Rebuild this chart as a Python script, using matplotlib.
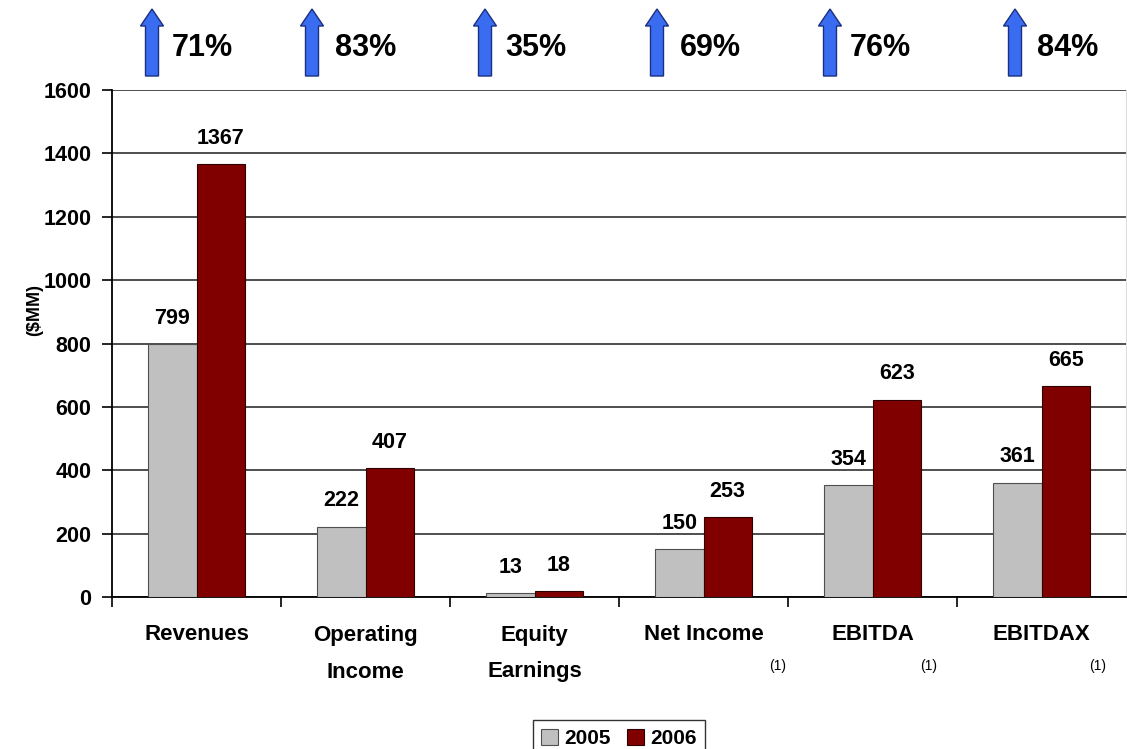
import matplotlib
matplotlib.use("Agg")
import matplotlib.pyplot as plt
import matplotlib.transforms as mtransforms
from matplotlib.patches import FancyArrow
import numpy as np

categories = ["Revenues", "Operating\nIncome", "Equity\nEarnings", "Net Income", "EBITDA", "EBITDAX"]
footnotes = ["", "", "", "(1)", "(1)", "(1)"]
values_2005 = [799, 222, 13, 150, 354, 361]
values_2006 = [1367, 407, 18, 253, 623, 665]
growth_pct = ["71%", "83%", "35%", "69%", "76%", "84%"]
series_labels = ["2005", "2006"]
y_ticks = [0, 200, 400, 600, 800, 1000, 1200, 1400, 1600]

plt.rcParams["font.family"] = ["Liberation Sans", "DejaVu Sans"]

W, H = 1127, 749
fig = plt.figure(figsize=(W / 100, H / 100), dpi=100)
ax = fig.add_axes([112 / W, 1 - 597 / H, 1014 / W, (597 - 90) / H])

x = np.arange(len(categories))
bw = 0.286
c05, c06 = "#C0C0C0", "#800000"
b1 = ax.bar(x - bw / 2, values_2005, bw, color=c05, edgecolor="#505050", linewidth=0.8,
            label=series_labels[0], zorder=3)
b2 = ax.bar(x + bw / 2, values_2006, bw, color=c06, edgecolor="#300000", linewidth=0.8,
            label=series_labels[1], zorder=3)

for bars, vals in ((b1, values_2005), (b2, values_2006)):
    for rect, v in zip(bars, vals):
        ax.annotate(f"{v}", (rect.get_x() + rect.get_width() / 2, v),
                    xytext=(0, 11), textcoords="offset points",
                    ha="center", va="bottom", fontsize=15.5, fontweight="bold")

ax.set_xlim(-0.5, len(categories) - 0.5)
ax.set_ylim(0, 1600)
ax.set_yticks(y_ticks)
ax.set_yticklabels([str(t) for t in y_ticks], fontsize=15.5, fontweight="bold")
ax.yaxis.grid(True, color="#404040", linewidth=1.3, zorder=0)
ax.set_axisbelow(True)

# ticks on the x axis sit on the category boundaries
ax.set_xticks(np.arange(len(categories)) - 0.5)
ax.set_xticklabels([])
ax.tick_params(axis="x", direction="out", length=7, width=1.2, color="black")
ax.tick_params(axis="y", direction="out", length=7, width=1.2, color="black", pad=8)

ax.spines["top"].set_visible(False)
ax.spines["right"].set_color("#DDDDDD")
ax.spines["left"].set_linewidth(1.3)
ax.spines["bottom"].set_linewidth(1.3)

# category labels below the axis
trans = mtransforms.blended_transform_factory(ax.transData, fig.transFigure)
foot_dx = [0, 0, 0, 0.44, 0.33, 0.33]
for i, (lab, fn) in enumerate(zip(categories, footnotes)):
    lines = lab.split("\n")
    for j, line in enumerate(lines):
        ax.text(i, 1 - (635 + 37 * j) / H, line, transform=trans, ha="center", va="center",
                fontsize=16, fontweight="bold", clip_on=False)
    if fn:
        ax.text(i + foot_dx[i], 1 - 666 / H, fn, transform=trans, ha="center", va="center",
                fontsize=10, clip_on=False)

fig.text(35 / W, 1 - 310 / H, "($MM)", rotation=90, ha="center", va="center",
         fontsize=13, fontweight="bold")

# growth arrows above the plot
arrow_x = [152, 312, 485, 657, 830, 1015]
text_x = [172, 335, 505, 680, 850, 1037]
for ax_px, tx_px, pct in zip(arrow_x, text_x, growth_pct):
    arr = FancyArrow(ax_px / W, 1 - 76 / H, 0, (76 - 9) / H,
                     width=13 / W, head_width=23 / W, head_length=17 / H,
                     length_includes_head=True, transform=fig.transFigure,
                     facecolor="#3A6CF2", edgecolor="#1B2F80", linewidth=1.0)
    fig.patches.append(arr)
    fig.text(tx_px / W, 1 - 48 / H, pct, ha="left", va="center",
             fontsize=22, fontweight="bold")

leg = fig.legend(handles=[b1, b2], labels=series_labels, loc="upper center",
                 bbox_to_anchor=(619 / W, 1 - 710 / H), ncol=2, frameon=True,
                 fancybox=False, edgecolor="black",
                 prop={"weight": "bold", "size": 15},
                 handlelength=0.8, handleheight=0.8, handletextpad=0.3,
                 columnspacing=0.8, borderpad=0.4)
leg.get_frame().set_linewidth(1.0)

fig.savefig("out.png", dpi=100, facecolor="white")
